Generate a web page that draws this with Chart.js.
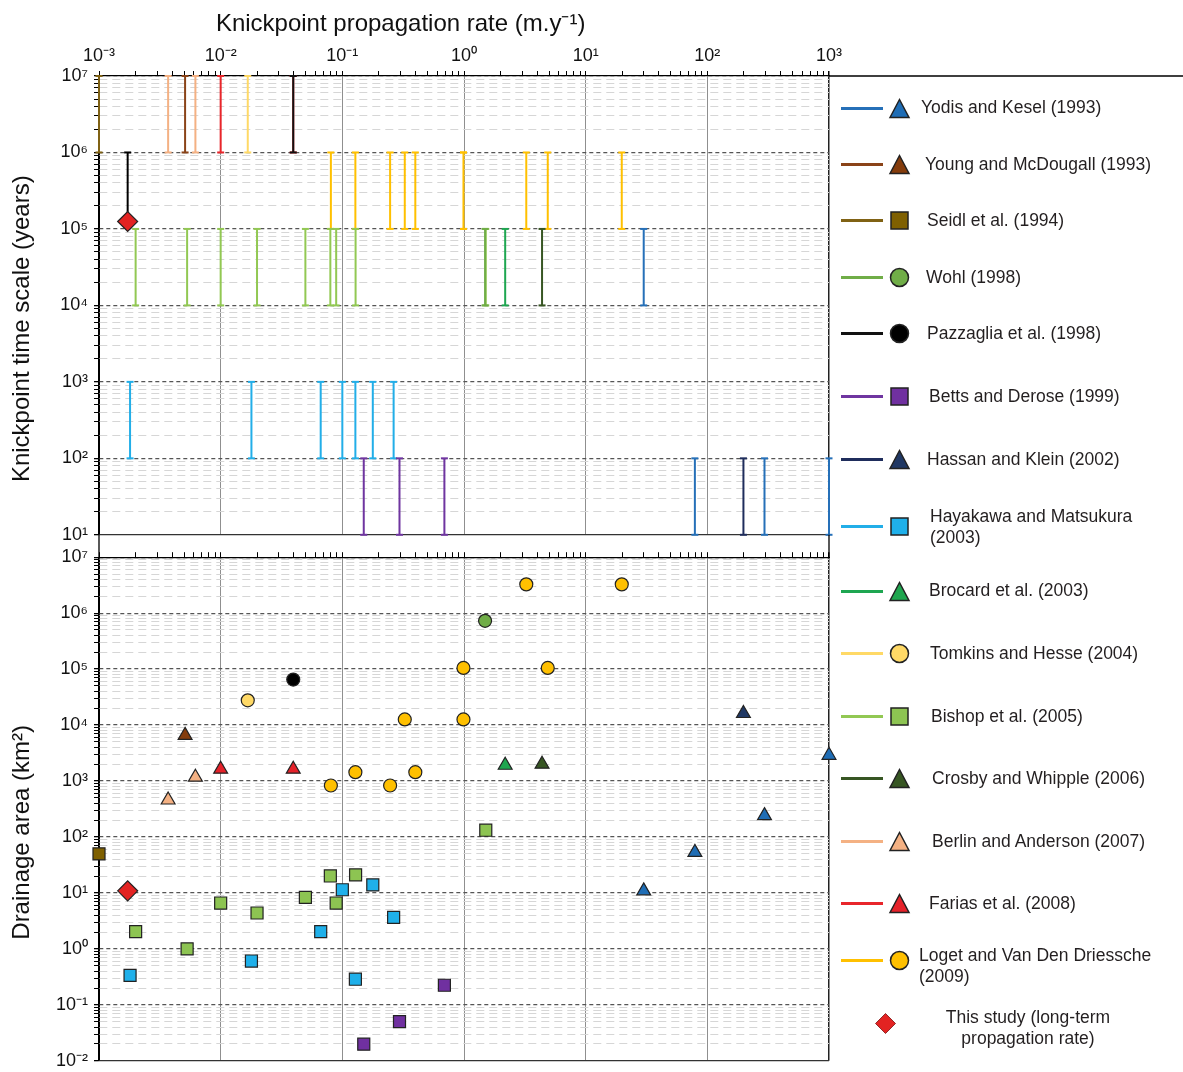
<!DOCTYPE html>
<html>
<head>
<meta charset="utf-8">
<script src="https://cdn.jsdelivr.net/npm/chart.js@4.4.1/dist/chart.umd.min.js"></script>
<style>
  body { margin: 0; background: #fff; }
  #wrap { position: relative; width: 1183px; height: 1072px; font-family: 'Liberation Sans', Arial, sans-serif; }
  .panel { position: absolute; left: 0; }
  #topPanel { top: 0; }
  #bottomPanel { top: 546px; }
  .key-line { position: absolute; height: 3px; }
  .key-mark { position: absolute; }
  .key-text { position: absolute; font-size: 17.5px; line-height: 21px; color: #231f20; max-width: 246px; transform: translateY(-50%); }
</style>
</head>
<body>
<div id="wrap">
  <div class="panel" id="topPanel"><canvas id="timeChart" width="1183" height="546"></canvas></div>
  <div class="panel" id="bottomPanel"><canvas id="areaChart" width="1183" height="526"></canvas></div>
  <div id="legend"></div>
</div>
<script>
// rate in m/y, time scale as [min, max] years, drainage area in km2
const studies = [
  'Yodis and Kesel (1993)',
  'Young and McDougall (1993)',
  'Seidl et al. (1994)',
  'Wohl (1998)',
  'Pazzaglia et al. (1998)',
  'Betts and Derose (1999)',
  'Hassan and Klein (2002)',
  'Hayakawa and Matsukura (2003)',
  'Brocard et al. (2003)',
  'Tomkins and Hesse (2004)',
  'Bishop et al. (2005)',
  'Crosby and Whipple (2006)',
  'Berlin and Anderson (2007)',
  'Farias et al. (2008)',
  'Loget and Van Den Driessche (2009)',
  'This study (long-term propagation rate)'
];

const yodisRate = [30, 79, 295, 1000];
const yodisTime = [[1e4, 1e5], [10, 100], [10, 100], [10, 100]];
const yodisArea = [10.9, 53, 241, 2880];

const youngRate = [0.0051];
const youngTime = [[1e6, 1e7]];
const youngArea = [6530];

const seidlRate = [0.001];
const seidlTime = [[1e6, 1e7]];
const seidlArea = [50];

const wohlRate = [1.49];
const wohlTime = [[1e4, 1e5]];
const wohlArea = [7.3e5];

const pazzagliaRate = [0.0395];
const pazzagliaTime = [[1e6, 1e7]];
const pazzagliaArea = [6.5e4];

const bettsRate = [0.15, 0.295, 0.69];
const bettsTime = [[10, 100], [10, 100], [10, 100]];
const bettsArea = [0.0198, 0.05, 0.224];

const hassanRate = [198];
const hassanTime = [[10, 100]];
const hassanArea = [1.61e4];

const hayakawaRate = [0.0018, 0.0179, 0.0664, 0.1, 0.128, 0.178, 0.264];
const hayakawaTime = [[100, 1000], [100, 1000], [100, 1000], [100, 1000], [100, 1000], [100, 1000], [100, 1000]];
const hayakawaArea = [0.337, 0.607, 2.04, 11.4, 0.287, 13.9, 3.67];

const brocardRate = [2.18];
const brocardTime = [[1e4, 1e5]];
const brocardArea = [1915];

const tomkinsRate = [0.0167];
const tomkinsTime = [[1e6, 1e7]];
const tomkinsArea = [2.77e4];

const bishopRate = [0.002, 0.0053, 0.01, 0.0199, 0.0497, 0.0797, 0.089, 0.1285, 1.51];
const bishopTime = [[1e4, 1e5], [1e4, 1e5], [1e4, 1e5], [1e4, 1e5], [1e4, 1e5], [1e4, 1e5], [1e4, 1e5], [1e4, 1e5], [1e4, 1e5]];
const bishopArea = [2.04, 1.0, 6.6, 4.38, 8.3, 20.1, 6.6, 21, 132];

const crosbyRate = [4.38];
const crosbyTime = [[1e4, 1e5]];
const crosbyArea = [2000];

const berlinRate = [0.0037, 0.0062];
const berlinTime = [[1e6, 1e7], [1e6, 1e7]];
const berlinArea = [458, 1170];

const fariasRate = [0.01, 0.0395];
const fariasTime = [[1e6, 1e7], [1e6, 1e7]];
const fariasArea = [1625, 1625];

const logetRate = [0.0805, 0.128, 0.247, 0.326, 0.398, 0.99, 0.99, 3.25, 4.88, 19.8];
const logetTime = [[1e5, 1e6], [1e5, 1e6], [1e5, 1e6], [1e5, 1e6], [1e5, 1e6], [1e5, 1e6], [1e5, 1e6], [1e5, 1e6], [1e5, 1e6], [1e5, 1e6]];
const logetArea = [832, 1440, 832, 12600, 1440, 1.05e5, 1.26e4, 3.27e6, 1.05e5, 3.27e6];

const thisStudyRate = [0.00172];
const thisStudyTime = [[1.25e5, 1e6]];
const thisStudyArea = [10.9];

const rateDecades = [-3, -2, -1, 0, 1, 2, 3];
const rateTicks = ['10⁻³', '10⁻²', '10⁻¹', '10⁰', '10¹', '10²', '10³'];
const timeDecades = [1, 2, 3, 4, 5, 6, 7];
const timeTicks = ['10¹', '10²', '10³', '10⁴', '10⁵', '10⁶', '10⁷'];
const areaDecades = [-2, -1, 0, 1, 2, 3, 4, 5, 6, 7];
const areaTicks = ['10⁻²', '10⁻¹', '10⁰', '10¹', '10²', '10³', '10⁴', '10⁵', '10⁶', '10⁷'];

const rates = [yodisRate, youngRate, seidlRate, wohlRate, pazzagliaRate, bettsRate, hassanRate, hayakawaRate,
  brocardRate, tomkinsRate, bishopRate, crosbyRate, berlinRate, fariasRate, logetRate, thisStudyRate];
const times = [yodisTime, youngTime, seidlTime, wohlTime, pazzagliaTime, bettsTime, hassanTime, hayakawaTime,
  brocardTime, tomkinsTime, bishopTime, crosbyTime, berlinTime, fariasTime, logetTime, thisStudyTime];
const areas = [yodisArea, youngArea, seidlArea, wohlArea, pazzagliaArea, bettsArea, hassanArea, hayakawaArea,
  brocardArea, tomkinsArea, bishopArea, crosbyArea, berlinArea, fariasArea, logetArea, thisStudyArea];

// look of each study, same order as studies
const studyStyles = [
  { color: '#2670b8', fill: '#1f6db5', shape: 'triangle' },
  { color: '#8a4318', fill: '#843c0c', shape: 'triangle' },
  { color: '#806214', fill: '#7f6000', shape: 'rect' },
  { color: '#70ad47', fill: '#70ad47', shape: 'circle' },
  { color: '#111111', fill: '#000000', shape: 'circle' },
  { color: '#6f35a0', fill: '#7030a0', shape: 'rect' },
  { color: '#1f2d5c', fill: '#203864', shape: 'triangle' },
  { color: '#22aee8', fill: '#1fb0ea', shape: 'rect' },
  { color: '#1ea651', fill: '#1fa64f', shape: 'triangle' },
  { color: '#ffd966', fill: '#ffd966', shape: 'circle' },
  { color: '#92c853', fill: '#8dc452', shape: 'rect' },
  { color: '#375623', fill: '#375623', shape: 'triangle' },
  { color: '#f4b183', fill: '#f4b183', shape: 'triangle' },
  { color: '#e8262b', fill: '#e5222a', shape: 'triangle' },
  { color: '#ffc000', fill: '#ffc000', shape: 'circle' },
  { color: '#000000', fill: '#e32322', shape: 'rectRot' }
];
const markerRadius = { triangle: 8, rect: 8.5, circle: 6.5, rectRot: 10 };

// legend placement (px)
const legendMarkerY = [108, 164, 220, 277, 333, 396, 459, 526, 591, 653, 716, 778, 841, 903, 960, 1023];
const legendTextY = [107, 164, 220, 277, 333, 396, 459, 527, 590, 653, 716, 778, 841, 903, 965.5, 1028];
const legendTextX = [921, 925, 927, 926, 927, 929, 927, 930, 929, 930, 931, 932, 932, 929, 919, 1028];

Chart.defaults.font.family = "'Liberation Sans', Arial, sans-serif";
Chart.defaults.color = '#111';

const isDecade = v => {
  const e = Math.log10(v);
  return Math.abs(e - Math.round(e)) < 1e-9;
};
const near = (a, b) => Math.abs(Math.log10(a) - Math.log10(b)) < 1e-9;

function logTicks(decades) {
  return scale => {
    const ticks = [];
    for (let i = 0; i < decades.length - 1; i++) {
      for (let m = 1; m < 10; m++) ticks.push({ value: m * Math.pow(10, decades[i]) });
    }
    ticks.push({ value: Math.pow(10, decades[decades.length - 1]) });
    scale.ticks = ticks;
  };
}

function decadeLabel(value, decades, labels) {
  if (!isDecade(value)) return '';
  const i = decades.indexOf(Math.round(Math.log10(value)));
  return i < 0 ? '' : labels[i];
}

function rangePoints(rate, time) {
  const pts = [];
  rate.forEach((r, i) => {
    pts.push({ x: r, y: time[i][0] }, { x: r, y: time[i][1] }, { x: r, y: null });
  });
  return pts;
}

const xGrid = {
  color: ctx => {
    if (!ctx.tick || !isDecade(ctx.tick.value)) return 'rgba(0,0,0,0)';
    if (near(ctx.tick.value, ctx.scale.max)) return '#222';
    if (near(ctx.tick.value, ctx.scale.min)) return '#000';
    return '#8f8f8f';
  },
  lineWidth: ctx => (ctx.tick && near(ctx.tick.value, ctx.scale.max)) ? 1.5 : 1,
  tickColor: '#000',
  tickLength: 5
};

const yGrid = {
  color: ctx => {
    if (!ctx.tick) return '#000';
    if (near(ctx.tick.value, ctx.scale.min)) return '#333';
    return isDecade(ctx.tick.value) ? '#555' : '#d6d6d6';
  },
  lineWidth: ctx => (ctx.tick && isDecade(ctx.tick.value)) ? 1.3 : 1,
  tickColor: '#000',
  tickLength: 5
};

const yDash = ctx => {
  if (!ctx.tick || near(ctx.tick.value, ctx.scale.min)) return [];
  return isDecade(ctx.tick.value) ? [4, 3] : [8, 5];
};

function xScale(showLabels, height) {
  return {
    type: 'logarithmic',
    position: 'top',
    min: 1e-3,
    max: 1e3,
    afterBuildTicks: logTicks(rateDecades),
    afterFit: s => { s.height = height; s.paddingLeft = 0; s.paddingRight = 0; },
    ticks: {
      display: showLabels,
      autoSkip: false, maxRotation: 0, minRotation: 0, padding: 6,
      font: { size: 18, lineHeight: 1 },
      callback: v => decadeLabel(v, rateDecades, rateTicks)
    },
    grid: xGrid,
    border: { color: '#000', width: 1.3 },
    title: {
      display: showLabels,
      text: 'Knickpoint propagation rate (m.y⁻¹)' + ' '.repeat(19),
      font: { size: 24 },
      padding: { top: 10, bottom: 0 }
    }
  };
}

function yScale(min, max, decades, labels, title) {
  return {
    type: 'logarithmic',
    min: min,
    max: max,
    afterBuildTicks: logTicks(decades),
    afterFit: s => { s.width = 99; s.paddingTop = 0; s.paddingBottom = 0; },
    ticks: {
      autoSkip: false, padding: 6,
      font: { size: 18, lineHeight: 1 },
      callback: v => decadeLabel(v, decades, labels)
    },
    grid: yGrid,
    border: { color: '#000', width: 1.3, dash: yDash },
    title: {
      display: true,
      text: title + ' '.repeat(7),
      font: { size: 24 },
      padding: { top: 8, bottom: 0 }
    }
  };
}

// axis lines that run through the gap between panels and over the legend
const frameLines = {
  id: 'frameLines',
  afterDraw(chart, args, opts) {
    const { ctx, chartArea: a, width, height } = chart;
    ctx.save();
    ctx.strokeStyle = '#000';
    ctx.lineWidth = 1.3;
    ctx.beginPath();
    if (opts.panel === 'top') {
      ctx.moveTo(a.right, a.top); ctx.lineTo(width, a.top);
      ctx.moveTo(a.left, a.bottom); ctx.lineTo(a.left, height);
      ctx.moveTo(a.right, a.bottom); ctx.lineTo(a.right, height);
    } else {
      ctx.moveTo(a.left, 0); ctx.lineTo(a.left, a.top);
      ctx.moveTo(a.right, 0); ctx.lineTo(a.right, a.top);
    }
    ctx.stroke();
    ctx.restore();
  }
};

const last = studies.length - 1;
const diamond = studyStyles[last];

// top panel: time-scale ranges
const timeSets = [{
  label: studies[last],
  data: thisStudyRate.map((r, i) => ({ x: r, y: thisStudyTime[i][0] })),
  pointStyle: 'rectRot',
  pointRadius: markerRadius.rectRot,
  backgroundColor: diamond.fill,
  borderColor: '#222',
  borderWidth: 1.2,
  clip: false
}];
studies.forEach((name, s) => {
  const st = studyStyles[s];
  timeSets.push({
    label: name,
    data: rangePoints(rates[s], times[s]),
    showLine: true,
    spanGaps: false,
    borderColor: st.color,
    borderWidth: 2,
    pointStyle: 'line',
    pointRadius: 3.5,
    pointBorderColor: st.color,
    pointBorderWidth: 2,
    clip: false
  });
});

// bottom panel: drainage area
const areaSets = [last].concat(studies.slice(0, last).map((n, i) => i)).map(s => {
  const st = studyStyles[s];
  return {
    label: studies[s],
    data: rates[s].map((r, i) => ({ x: r, y: areas[s][i] })),
    pointStyle: st.shape,
    pointRadius: markerRadius[st.shape],
    backgroundColor: st.fill,
    borderColor: '#222',
    borderWidth: 1.2,
    clip: false
  };
});

new Chart(document.getElementById('timeChart'), {
  type: 'scatter',
  data: { datasets: timeSets },
  options: {
    responsive: false,
    animation: false,
    devicePixelRatio: 1,
    layout: { padding: { left: 0, right: 354, top: 0, bottom: 10 } },
    plugins: { legend: { display: false }, tooltip: { enabled: false }, frameLines: { panel: 'top' } },
    scales: {
      x: xScale(true, 76),
      y: yScale(10, 1e7, timeDecades, timeTicks, 'Knickpoint time scale (years)')
    }
  },
  plugins: [frameLines]
});

new Chart(document.getElementById('areaChart'), {
  type: 'scatter',
  data: { datasets: areaSets },
  options: {
    responsive: false,
    animation: false,
    devicePixelRatio: 1,
    layout: { padding: { left: 0, right: 354, top: 0, bottom: 9 } },
    plugins: { legend: { display: false }, tooltip: { enabled: false }, frameLines: { panel: 'bottom' } },
    scales: {
      x: xScale(false, 10),
      y: yScale(1e-2, 1e7, areaDecades, areaTicks, 'Drainage area (km²)')
    }
  },
  plugins: [frameLines]
});

// legend: line + marker + text for each study
function markerSvg(shape, fill) {
  const stroke = 'stroke="#222" stroke-width="1.5"';
  let el;
  if (shape === 'triangle') el = `<polygon points="2,20.5 11.5,2.5 21,20.5" fill="${fill}" ${stroke}/>`;
  else if (shape === 'rect') el = `<rect x="3" y="3" width="17" height="17" fill="${fill}" ${stroke}/>`;
  else if (shape === 'circle') el = `<circle cx="11.5" cy="11.5" r="9" fill="${fill}" ${stroke}/>`;
  else el = `<polygon points="11.5,1.5 21.5,11.5 11.5,21.5 1.5,11.5" fill="${fill}" stroke="#7a1010" stroke-width="0.8"/>`;
  return `<svg width="23" height="23" viewBox="0 0 23 23">${el}</svg>`;
}

const legendBox = document.getElementById('legend');
studies.forEach((name, s) => {
  const st = studyStyles[s];
  const y = legendMarkerY[s];
  if (s < last) {
    const line = document.createElement('div');
    line.className = 'key-line';
    line.style.cssText = `left:841px;width:42px;top:${y - 1.5}px;background:${st.color};`;
    legendBox.appendChild(line);
  }
  const mark = document.createElement('div');
  mark.className = 'key-mark';
  const mx = s < last ? 899.5 : 885;
  mark.style.cssText = `left:${mx - 11.5}px;top:${y - 11.5}px;`;
  mark.innerHTML = markerSvg(st.shape, st.fill);
  legendBox.appendChild(mark);

  const text = document.createElement('div');
  text.className = 'key-text';
  text.textContent = name;
  if (s < last) {
    text.style.left = legendTextX[s] + 'px';
  } else {
    text.style.cssText = `left:${legendTextX[s]}px;width:200px;max-width:200px;text-align:center;transform:translate(-50%,-50%);`;
  }
  text.style.top = legendTextY[s] + 'px';
  legendBox.appendChild(text);
});
</script>
</body>
</html>
